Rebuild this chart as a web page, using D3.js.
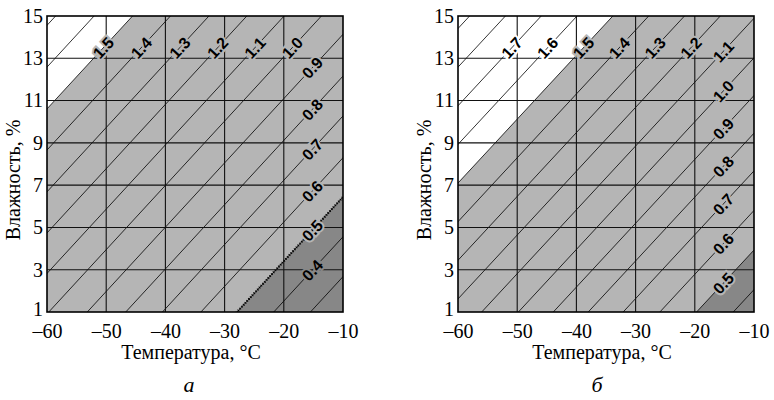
<!DOCTYPE html>
<html>
<head>
<meta charset="utf-8">
<script src="https://cdn.jsdelivr.net/npm/d3@7"></script>
<style>
  body { margin: 0; background: #fff; }
  svg { display: block; }
</style>
</head>
<body>
<svg id="chart"></svg>
<script>
const svgWidth = 774;
const svgHeight = 400;

// axes
const tempTicks = [-60, -50, -40, -30, -20, -10];
const moistTicks = [1, 3, 5, 7, 9, 11, 13, 15];

// panel a: isoline value and temperature where it crosses 1 % moisture
const isoValuesA = [1.7, 1.6, 1.5, 1.4, 1.3, 1.2, 1.1, 1.0, 0.9, 0.8, 0.7, 0.6, 0.5, 0.4, 0.3];
const isoStartA  = [-104.6, -98.1, -91.6, -85.2, -78.7, -72.3, -66.0, -59.7, -53.2, -46.7, -40.5, -34.0, -27.9, -21.7, -15.5];
const labelsA    = [1.5, 1.4, 1.3, 1.2, 1.1, 1.0, 0.9, 0.8, 0.7, 0.6, 0.5, 0.4];
const slopeA = 0.304;   // % per °C

// panel b
const isoValuesB = [1.9, 1.8, 1.7, 1.6, 1.5, 1.4, 1.3, 1.2, 1.1, 1.0, 0.9, 0.8, 0.7, 0.6, 0.5, 0.4];
const isoStartB  = [-104.4, -98.35, -92.3, -86.25, -80.2, -74.15, -68.1, -62.05, -56.0, -49.8, -43.9, -38.0, -32.1, -25.9, -19.7, -13.5];
const labelsB    = [1.7, 1.6, 1.5, 1.4, 1.3, 1.2, 1.1, 1.0, 0.9, 0.8, 0.7, 0.6, 0.5];
const slopeB = 0.302;

const upperValue = 1.5;   // white above
const lowerValue = 0.5;   // dark below

const panels = [
	{id: "a", left: 47, values: isoValuesA, starts: isoStartA, labels: labelsA, slope: slopeA, dotted: true, letter: "а", letterX: 189},
	{id: "b", left: 458, values: isoValuesB, starts: isoStartB, labels: labelsB, slope: slopeB, dotted: false, letter: "б", letterX: 597}
];

const plotTop = 16;
const plotSize = 296;
const gray = "#b5b5b5";
const dark = "#878787";
const serif = "'Liberation Serif', 'Times New Roman', serif";

const svg = d3.select("#chart")
				.attr("width", svgWidth)
				.attr("height", svgHeight);

panels.forEach(p => {
	const xScale = d3.scaleLinear().domain([-60, -10]).range([p.left, p.left + plotSize]);
	const yScale = d3.scaleLinear().domain([1, 15]).range([plotTop + plotSize, plotTop]);
	const moist = (i, t) => 1 + p.slope * (t - p.starts[i]);
	const line = d3.line().x(d => xScale(d[0])).y(d => yScale(d[1]));

	svg.append("clipPath")
		.attr("id", "clip-" + p.id)
		.append("rect")
			.attr("x", p.left)
			.attr("y", plotTop)
			.attr("width", plotSize)
			.attr("height", plotSize);

	const g = svg.append("g").attr("clip-path", `url(#clip-${p.id})`);

	// background regions
	g.append("rect")
		.attr("x", p.left).attr("y", plotTop)
		.attr("width", plotSize).attr("height", plotSize)
		.attr("fill", gray);

	const iu = p.values.indexOf(upperValue);
	const il = p.values.indexOf(lowerValue);
	g.append("path")
		.attr("d", line([[-200, moist(iu, -200)], [50, moist(iu, 50)], [50, 100], [-200, 100]]) + "Z")
		.attr("fill", "#fff");
	g.append("path")
		.attr("d", line([[-200, moist(il, -200)], [50, moist(il, 50)], [50, -100], [-200, -100]]) + "Z")
		.attr("fill", dark);

	// isolines
	p.values.forEach((v, i) => {
		g.append("path")
			.attr("d", line([[-200, moist(i, -200)], [50, moist(i, 50)]]))
			.attr("stroke", "#000")
			.attr("stroke-width", 0.8)
			.attr("fill", "none");
	});
	if (p.dotted) {
		g.append("path")
			.attr("d", line([[-200, moist(il, -200)], [50, moist(il, 50)]]))
			.attr("stroke", "#000")
			.attr("stroke-width", 2.4)
			.attr("stroke-dasharray", "1,1.6")
			.attr("fill", "none");
	}

	// grid
	g.selectAll(".vgrid")
		.data(tempTicks.slice(1, -1))
		.enter()
		.append("line")
			.attr("x1", d => xScale(d)).attr("x2", d => xScale(d))
			.attr("y1", plotTop).attr("y2", plotTop + plotSize)
			.attr("stroke", "#111").attr("stroke-width", 1.1);
	g.selectAll(".hgrid")
		.data(moistTicks.slice(1, -1))
		.enter()
		.append("line")
			.attr("x1", p.left).attr("x2", p.left + plotSize)
			.attr("y1", d => yScale(d)).attr("y2", d => yScale(d))
			.attr("stroke", "#111").attr("stroke-width", 1.1);

	// isoline labels
	const angle = Math.atan(p.slope * (plotSize / 14) / (plotSize / 50)) * 180 / Math.PI;
	p.labels.forEach(v => {
		const i = p.values.indexOf(v);
		let t = p.starts[i] + 12.5 / p.slope;
		if (t > -15.2) t = -15.2;
		const w = moist(i, t);
		const halo = v > upperValue ? "#fff" : (v < lowerValue ? dark : gray);
		g.append("text")
			.text(v.toFixed(1))
			.attr("transform", `translate(${xScale(t)},${yScale(w)}) rotate(${-angle})`)
			.attr("text-anchor", "middle")
			.attr("dy", "0.36em")
			.attr("font-family", "'Liberation Sans', Arial, sans-serif")
			.attr("font-weight", "bold")
			.attr("font-size", "16px")
			.attr("fill", "#000")
			.attr("stroke", halo)
			.attr("stroke-width", 4)
			.attr("paint-order", "stroke");
	});

	// border
	svg.append("rect")
		.attr("x", p.left).attr("y", plotTop)
		.attr("width", plotSize).attr("height", plotSize)
		.attr("fill", "none")
		.attr("stroke", "#000")
		.attr("stroke-width", 1.6);

	// axes
	const xAxis = d3.axisBottom(xScale)
					.tickValues(tempTicks)
					.tickSize(0)
					.tickPadding(12)
					.tickFormat(d => (d < 0 ? "\u2013" : "") + Math.abs(d));
	const yAxis = d3.axisLeft(yScale)
					.tickValues(moistTicks)
					.tickSize(0)
					.tickPadding(4);
	const gx = svg.append("g")
		.attr("transform", `translate(0, ${plotTop + plotSize})`)
		.call(xAxis);
	const gy = svg.append("g")
		.attr("transform", `translate(${p.left}, 0)`)
		.call(yAxis);
	[gx, gy].forEach(a => {
		a.select(".domain").remove();
		a.selectAll("text")
			.attr("font-family", serif)
			.attr("font-size", "20px")
			.attr("fill", "#000");
	});
	// lowest moisture label sits just above the temperature labels
	gy.selectAll("text").filter(d => d === 1).attr("dy", "0.15em");

	// axis titles
	svg.append("text")
		.text("Температура, °C")
		.attr("x", p.left + plotSize / 2 - 4)
		.attr("y", 359)
		.attr("text-anchor", "middle")
		.attr("font-family", serif)
		.attr("font-size", "20px");
	svg.append("text")
		.text("Влажность, %")
		.attr("transform", `translate(${p.left - 27}, 180) rotate(-90)`)
		.attr("text-anchor", "middle")
		.attr("font-family", serif)
		.attr("font-size", "20px");

	// panel letter
	svg.append("text")
		.text(p.letter)
		.attr("x", p.letterX)
		.attr("y", 392)
		.attr("text-anchor", "middle")
		.attr("font-family", serif)
		.attr("font-style", "italic")
		.attr("font-size", "22px");
});
</script>
</body>
</html>
